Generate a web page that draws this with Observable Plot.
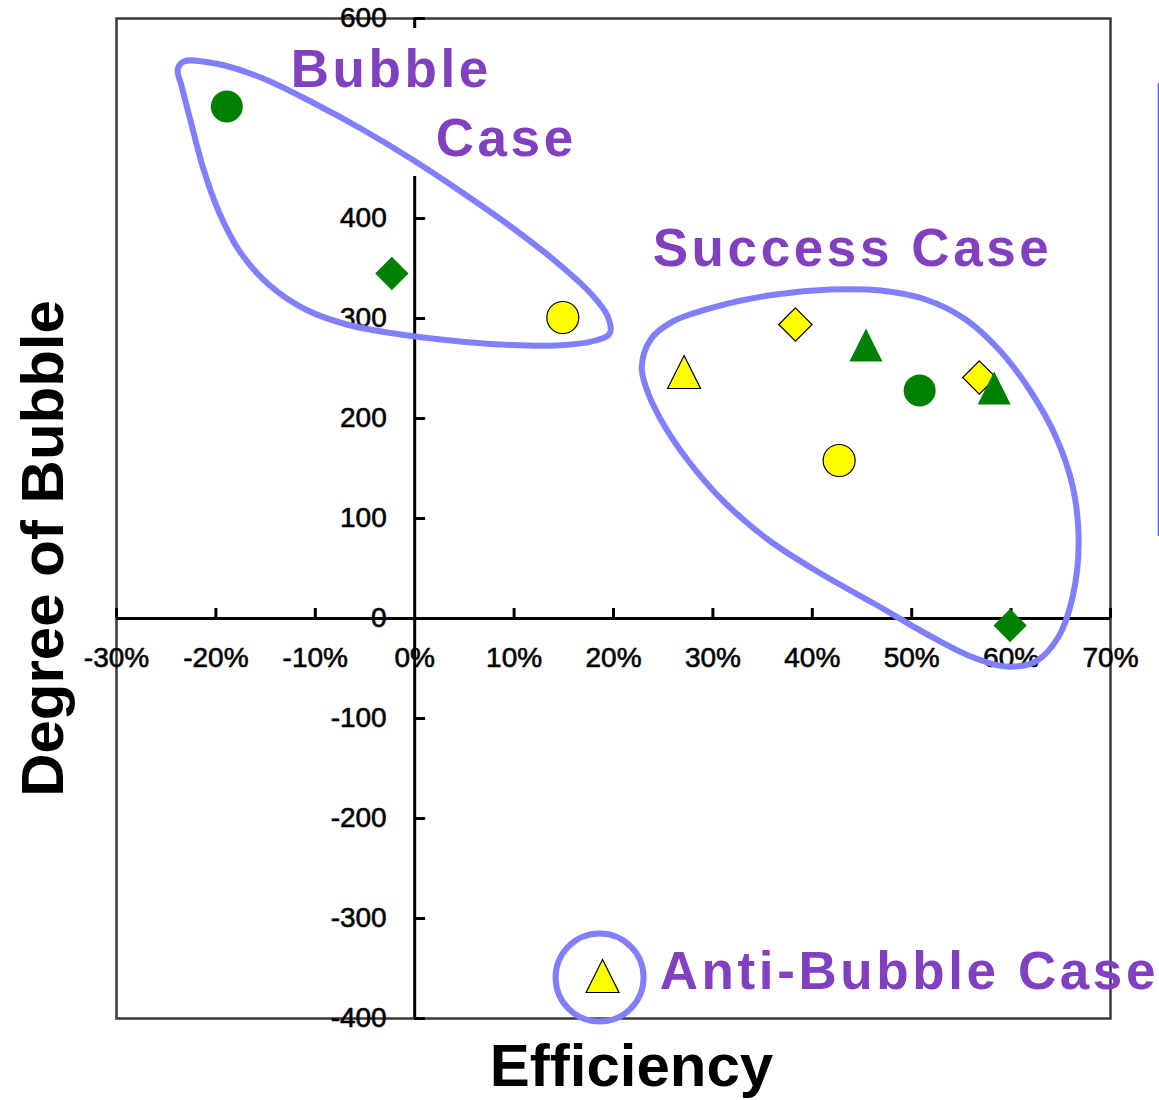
<!DOCTYPE html>
<html>
<head>
<meta charset="utf-8">
<script src="https://cdn.jsdelivr.net/npm/d3@7"></script>
<script src="https://cdn.jsdelivr.net/npm/@observablehq/plot@0.6"></script>
<style>
  body { margin: 0; background: white; }
</style>
</head>
<body>
<div id="chart"></div>
<script>
// ---- data ----
const xTicks = [-0.3, -0.2, -0.1, 0, 0.1, 0.2, 0.3, 0.4, 0.5, 0.6, 0.7];
const yTicks = [-400, -300, -200, -100, 0, 100, 200, 300, 400, 600];

const efficiency = [-0.189, 0.508, -0.023, 0.599, 0.454, 0.583, 0.149, 0.427, 0.383, 0.568, 0.271, 0.189];
const degree     = [512, 228, 345, -7, 268, 225, 301, 158, 294, 241, 241, -363];
const colorGroup = ["green", "green", "green", "green", "green", "green", "yellow", "yellow", "yellow", "yellow", "yellow", "yellow"];
const shape      = ["circle", "circle", "diamond", "diamond", "triangle", "triangle", "circle", "circle", "diamond", "diamond", "triangle", "triangle"];

// annotation outlines (data units: efficiency, degree)
const bubbleOutlineX = [-0.2324, -0.2002, -0.1549, -0.1046, -0.0543, -0.004, 0.0463, 0.0966, 0.1419, 0.1771, 0.1942, 0.1962, 0.1821, 0.1419, 0.0865, 0.0362, -0.0141, -0.0644, -0.1097, -0.1469, -0.176, -0.1972, -0.2133, -0.2253, -0.2344, -0.2384];
const bubbleOutlineY = [557, 555, 541, 517, 490, 460, 427, 392, 357, 325, 302, 285, 278, 273, 274, 278, 284, 293, 309, 334, 367, 407, 452, 497, 532, 549];
const successOutlineX = [0.2284, 0.2374, 0.2596, 0.3078, 0.3632, 0.4185, 0.4688, 0.5141, 0.5543, 0.5895, 0.6197, 0.6449, 0.662, 0.668, 0.662, 0.6479, 0.6247, 0.5946, 0.5594, 0.5141, 0.4638, 0.4085, 0.3581, 0.3129, 0.2757, 0.2475, 0.2324];
const successOutlineY = [252, 279, 297, 313, 324, 329, 328, 319, 299, 267, 227, 182, 132, 77, 22, -18, -43, -48, -38, -15, 14, 45, 77, 115, 157, 199, 232];
const antiCircle = [{x: 0.186, y: -359}];

const labels = ["Bubble", "Case", "Success Case", "Anti-Bubble Case"];
const labelX = [-0.1248, 0.0211, 0.2394, 0.2465];
const labelY = [548, 479, 369, -354];

const textBox = [{x1: -0.085, x2: 0.175, y1: 442, y2: 590}];
const legendEdge = [{x: 0.7485, y1: 82, y2: 535}];

// ---- build ----
const fillColor = {green: "#008000", yellow: "#ffff00"};
const points = efficiency.map((x, i) => ({x, y: degree[i], group: colorGroup[i], shape: shape[i]}));
const bubbleOutline = bubbleOutlineX.map((x, i) => ({x, y: bubbleOutlineY[i]}));
const successOutline = successOutlineX.map((x, i) => ({x, y: successOutlineY[i]}));
const annotations = labels.map((t, i) => ({t, x: labelX[i], y: labelY[i]}));

const tri = {
  draw(ctx, size) {
    const a = Math.sqrt(size / Math.PI);
    const h = 2.06 * a, w = 2.06 * a;
    ctx.moveTo(0, -2 * h / 3);
    ctx.lineTo(w / 2, h / 3);
    ctx.lineTo(-w / 2, h / 3);
    ctx.closePath();
  }
};

const font = "'Liberation Sans', Arial, Helvetica, sans-serif";
const ellipseColor = "#8080ff";
const textColor = "#8040c0";

const dotOpts = (extra) => Object.assign({
  x: "x", y: "y",
  fill: d => fillColor[d.group],
  stroke: d => d.group === "yellow" ? "black" : "none",
  strokeWidth: 1.2
}, extra);

const chart = Plot.plot({
  width: 1159,
  height: 1100,
  marginLeft: 116,
  marginRight: 49,
  marginTop: 18,
  marginBottom: 82,
  x: {domain: [-0.3, 0.7], axis: null},
  y: {domain: [-400, 600], axis: null},
  color: {type: "identity"},
  style: {fontFamily: font, background: "white", color: "black"},
  marks: [
    Plot.frame({stroke: "#3a3a3a", strokeWidth: 2.5}),
    Plot.ruleY([0], {stroke: "black", strokeWidth: 3}),
    Plot.ruleX([0], {y1: -400, y2: 600, stroke: "black", strokeWidth: 3}),
    Plot.ruleX(xTicks.filter(d => d !== 0), {x: d => d, y1: 0, y2: 10, stroke: "black", strokeWidth: 3}),
    Plot.ruleY(yTicks.filter(d => d !== 0), {y: d => d, x1: 0, x2: 0.011, stroke: "black", strokeWidth: 3}),
    Plot.text(xTicks, {x: d => d, y: 0, dy: 40, text: d => `${Math.round(d * 100)}%`, fontSize: 28, fill: "black", stroke: "black", strokeWidth: 0.6}),
    Plot.text(yTicks, {x: 0, y: d => d, dx: -28, textAnchor: "end", text: d => String(d), fontSize: 28, fill: "black", stroke: "black", strokeWidth: 0.6}),
    Plot.rect(textBox, {x1: "x1", x2: "x2", y1: "y1", y2: "y2", fill: "white"}),
    Plot.line(bubbleOutline, {x: "x", y: "y", curve: "catmull-rom-closed", stroke: ellipseColor, strokeWidth: 6}),
    Plot.line(successOutline, {x: "x", y: "y", curve: "catmull-rom-closed", stroke: ellipseColor, strokeWidth: 6}),
    Plot.dot(antiCircle, {x: "x", y: "y", r: 44, fill: "none", stroke: ellipseColor, strokeWidth: 6}),
    Plot.text(annotations, {x: "x", y: "y", text: "t", textAnchor: "start", lineAnchor: "middle", fontSize: 53, fontWeight: "bold", fill: textColor}),
    Plot.dot(points.filter(d => d.shape === "circle"), dotOpts({symbol: "circle", r: 16})),
    Plot.dot(points.filter(d => d.shape === "diamond"), dotOpts({symbol: "diamond2", r: 15})),
    Plot.dot(points.filter(d => d.shape === "triangle"), dotOpts({symbol: tri, r: 16})),
    Plot.text(["Efficiency"], {frameAnchor: "bottom", textAnchor: "middle", lineAnchor: "middle", dx: 18, dy: 48, text: d => d, fontSize: 60, fontWeight: "bold", fill: "black"}),
    Plot.text(["Degree of Bubble"], {frameAnchor: "left", textAnchor: "middle", lineAnchor: "middle", dx: -73, dy: 30, rotate: -90, text: d => d, fontSize: 60, fontWeight: "bold", fill: "black"}),
    Plot.ruleX(legendEdge, {x: "x", y1: "y1", y2: "y2", stroke: "#5a5aff", strokeWidth: 2})
  ]
});

// widen the purple annotation lettering as in the original
d3.select(chart).selectAll("text").filter(function () {
  const g = this.parentNode;
  return (g && g.getAttribute && g.getAttribute("fill") === textColor) || this.getAttribute("fill") === textColor;
}).style("letter-spacing", "3.6px");

document.getElementById("chart").appendChild(chart);
</script>
</body>
</html>
